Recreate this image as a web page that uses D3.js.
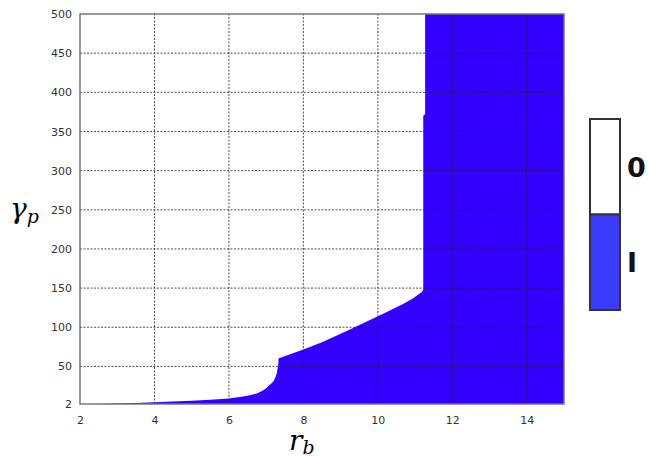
<!DOCTYPE html>
<meta charset="utf-8">
<head>
  <script src="https://d3js.org/d3.v7.min.js"></script>
</head>
<style>
  body { margin: 0; background: #fff; }
  .grid line { stroke: #222; stroke-width: 0.8; stroke-dasharray: 2,1.5; }
  .tick text { font-family: "DejaVu Sans", sans-serif; font-size: 11px; fill: #333; }
</style>
<body>
<script>
  // boundary between region 0 and region 1 (r_b, gamma_p)
  var rbEdge    = [2, 2.5, 3, 3.5, 4, 4.5, 5, 5.5, 6, 6.25, 6.5, 6.75, 6.9, 7.0, 7.1, 7.2, 7.25, 7.29, 7.31, 7.33, 7.33, 8.0, 8.5, 8.9, 9.35, 10.0, 10.35, 10.69, 10.95, 11.18, 11.22, 11.22, 11.27, 11.27];
  var gammaEdge = [2, 2.1, 2.6, 3.3, 4.3, 5.3, 6.3, 7.5, 9, 10.5, 12.5, 15.5, 19, 22, 26.5, 31, 36, 42, 48, 55, 60, 71.7, 81, 89.6, 99.4, 114, 122, 130, 137, 145, 148, 370, 372, 500];
  var xTicks = [2, 4, 6, 8, 10, 12, 14];
  var yTicks = [2, 50, 100, 150, 200, 250, 300, 350, 400, 450, 500];
  var legendLabels = ["0", "I"];
  var legendColors = ["#ffffff", "#3b3bff"];

  var W = 648, H = 458;
  var m = { left: 80, right: 84, top: 14, bottom: 54 };

  var svg = d3.select("body").append("svg")
    .attr("width", W)
    .attr("height", H);

  var x = d3.scaleLinear().domain([2, 15]).range([m.left, W - m.right]);
  var y = d3.scaleLinear().domain([2, 500]).range([H - m.bottom, m.top]);

  // region 1 : right of / below the boundary
  var pts = rbEdge.map(function (r, i) { return [r, gammaEdge[i]]; });
  pts.push([15, 500], [15, 2]);
  svg.append("path")
    .datum(pts)
    .attr("fill", "#3300ff")
    .attr("d", d3.line().x(function (d) { return x(d[0]); }).y(function (d) { return y(d[1]); }));

  // grid
  var g = svg.append("g").attr("class", "grid");
  g.selectAll(".gx").data(xTicks.slice(1)).enter().append("line")
    .attr("x1", x).attr("x2", x).attr("y1", y(2)).attr("y2", y(500));
  g.selectAll(".gy").data(yTicks.slice(1, -1)).enter().append("line")
    .attr("y1", y).attr("y2", y).attr("x1", x(2)).attr("x2", x(15));

  // axes
  svg.append("g")
    .attr("transform", "translate(0," + y(2) + ")")
    .call(d3.axisBottom(x).tickValues(xTicks).tickSize(0).tickPadding(12))
    .call(function (a) { a.select(".domain").remove(); });
  svg.append("g")
    .attr("transform", "translate(" + x(2) + ",0)")
    .call(d3.axisLeft(y).tickValues(yTicks).tickSize(0).tickPadding(8))
    .call(function (a) { a.select(".domain").remove(); });

  svg.append("rect")
    .attr("x", x(2)).attr("y", y(500))
    .attr("width", x(15) - x(2)).attr("height", y(2) - y(500))
    .attr("fill", "none").attr("stroke", "#777").attr("stroke-width", 1.5);

  // axis titles
  var rb = svg.append("text")
    .attr("x", 289).attr("y", 450)
    .attr("font-family", "DejaVu Serif, serif").attr("font-style", "italic").attr("font-size", 28);
  rb.append("tspan").text("r");
  rb.append("tspan").attr("dy", 4).attr("font-size", 19).text("b");

  var gp = svg.append("text")
    .attr("x", 10).attr("y", 218)
    .attr("font-family", "DejaVu Serif, serif").attr("font-style", "italic").attr("font-size", 28);
  gp.append("tspan").text("γ");
  gp.append("tspan").attr("dy", 5).attr("font-size", 19).text("p");

  // legend
  var lg = svg.append("g");
  var ly = d3.scaleBand().domain(legendLabels).range([119, 310]);
  lg.selectAll("rect").data(legendLabels).enter().append("rect")
    .attr("x", 590).attr("y", ly).attr("width", 30).attr("height", ly.bandwidth())
    .attr("fill", function (d, i) { return legendColors[i]; })
    .attr("stroke", "#333").attr("stroke-width", 2);
  lg.selectAll("text").data(legendLabels).enter().append("text")
    .attr("x", 627).attr("y", function (d) { return ly(d) + ly.bandwidth() / 2 + 10; })
    .attr("font-family", "DejaVu Sans, sans-serif").attr("font-size", 27).attr("font-weight", "bold")
    .attr("fill", "#111")
    .text(function (d) { return d; });
</script>
</body>
